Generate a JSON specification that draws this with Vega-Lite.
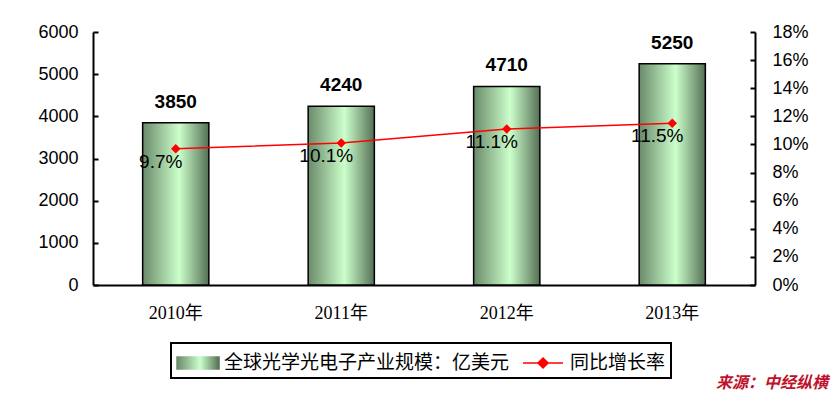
{
  "$schema": "https://vega.github.io/schema/vega-lite/v6.json",
  "autosize": {"type": "none"},
  "width": 662,
  "height": 253,
  "padding": {"left": 93, "top": 32, "right": 85, "bottom": 108},
  "background": "white",
  "config": {
    "view": {"stroke": null},
    "axis": {"grid": false, "domainColor": "black", "domainWidth": 2, "tickColor": "black", "tickWidth": 2, "labelColor": "black", "titleFontSize": 0}
  },
  "title": {
    "text": "来源：中经纵横",
    "orient": "bottom",
    "anchor": "end",
    "color": "#c0102a",
    "font": "Noto Sans CJK SC",
    "fontSize": 16,
    "fontWeight": "bold",
    "fontStyle": "italic",
    "offset": -4,
    "dx": 20
  },
  "data": {
    "values": [
      {"year": "2010年", "value": 3850, "rate": 0.097},
      {"year": "2011年", "value": 4240, "rate": 0.101},
      {"year": "2012年", "value": 4710, "rate": 0.111},
      {"year": "2013年", "value": 5250, "rate": 0.115}
    ]
  },
  "encoding": {
    "x": {
      "field": "year",
      "type": "nominal",
      "sort": null,
      "scale": {"paddingInner": 0.6, "paddingOuter": 0.3},
      "axis": {"title": null, "labelAngle": 0, "ticks": false, "labelFont": "Liberation Serif, Noto Sans CJK SC", "labelFontSize": 18, "labelPadding": 19}
    }
  },
  "layer": [
    {
      "encoding": {
        "y": {
          "field": "value",
          "type": "quantitative",
          "scale": {"domain": [0, 6000]},
          "axis": {"orient": "left", "title": null, "format": "d", "values": [0, 1000, 2000, 3000, 4000, 5000, 6000], "tickSize": -5, "labelPadding": 20, "labelFont": "Liberation Sans", "labelFontSize": 18}
        }
      },
      "layer": [
        {
          "mark": {
            "type": "bar",
            "stroke": "black",
            "strokeWidth": 1.5,
            "fill": {
              "gradient": "linear",
              "x1": 0, "y1": 0, "x2": 1, "y2": 0,
              "stops": [
                {"offset": 0, "color": "#6a8a6a"},
                {"offset": 0.55, "color": "#ccffcc"},
                {"offset": 1, "color": "#557055"}
              ]
            }
          }
        },
        {
          "mark": {"type": "text", "baseline": "bottom", "dy": -11, "font": "Liberation Sans", "fontSize": 19, "fontWeight": "bold", "color": "black"},
          "encoding": {"text": {"field": "value", "type": "quantitative", "format": "d"}}
        }
      ]
    },
    {
      "encoding": {
        "y": {
          "field": "rate",
          "type": "quantitative",
          "scale": {"domain": [0, 0.18]},
          "axis": {"orient": "right", "title": null, "format": ".0%", "values": [0, 0.02, 0.04, 0.06, 0.08, 0.1, 0.12, 0.14, 0.16, 0.18], "tickSize": -5, "labelPadding": 22, "labelFont": "Liberation Sans", "labelFontSize": 18}
        }
      },
      "layer": [
        {
          "mark": {"type": "line", "strokeWidth": 1.5, "point": {"shape": "diamond", "size": 90, "filled": true}},
          "encoding": {
            "color": {
              "datum": "同比增长率",
              "type": "nominal",
              "scale": {
                "domain": ["全球光学光电子产业规模：亿美元", "同比增长率"],
                "range": [
                  {"expr": "{gradient: 'linear', x1: 0, y1: 0, x2: 1, y2: 0, stops: [{offset: 0, color: '#6a8a6a'}, {offset: 0.55, color: '#ccffcc'}, {offset: 1, color: '#557055'}]}"},
                  "#ff0000"
                ]
              },
              "legend": {
                "title": null,
                "orient": "none",
                "legendX": 78,
                "legendY": 311,
                "direction": "horizontal",
                "padding": 5,
                "strokeColor": "black",
                "labelFont": "Noto Sans CJK SC",
                "labelFontSize": 19,
                "labelColor": "black",
                "labelLimit": 500,
                "labelOffset": 18,
                "symbolSize": 784,
                "columnPadding": 10,
                "encode": {
                  "legend": {"update": {"strokeWidth": {"value": 2}}},
                  "symbols": {
                    "update": {
                      "shape": {"signal": "datum.value === '同比增长率' ? 'M-1,0H1.86M0.43,-0.36L0.79,0L0.43,0.36L0.07,0Z' : 'M-1,-0.43H2V0.43H-1Z'"},
                      "strokeWidth": {"value": 1.5},
                      "opacity": {"value": 1},
                      "fillOpacity": {"value": 1},
                      "strokeOpacity": {"value": 1}
                    }
                  }
                }
              }
            }
          }
        },
        {
          "mark": {"type": "text", "baseline": "middle", "align": "center", "dx": -15, "dy": 13, "font": "Liberation Sans", "fontSize": 19, "color": "black"},
          "encoding": {"text": {"field": "rate", "type": "quantitative", "format": ".1%"}}
        }
      ]
    }
  ],
  "resolve": {"scale": {"y": "independent"}}
}
